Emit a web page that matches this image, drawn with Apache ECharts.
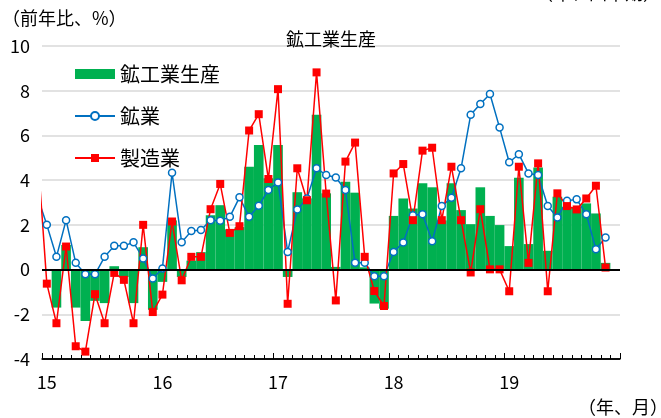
<!DOCTYPE html>
<html>
<head>
<meta charset="utf-8">
<title>鉱工業生産</title>
<script src="https://cdn.jsdelivr.net/npm/echarts@6/dist/echarts.min.js"></script>
<style>
    html, body {margin: 0; padding: 0; background: #fff;}
    #main {width: 661px; height: 418px;}
</style>
</head>
<body>
<div id="main"></div>
<script>
// months: 2014/12 .. 2019/12 (first one sits just left of the plot, last one is empty)
var months = [];
for (var y = 2014; y <= 2019; y++) {
    for (var m = 1; m <= 12; m++) {
        if (y == 2014 && m < 12) continue;
        months.push(y + '/' + m);
    }
}

// 鉱工業生産 (前年比、%)  2014/12 .. 2019/11
var totalProd = [
    3.9,
    null, -1.7, 1.1, -1.7, -2.3, -1.4, -1.5, 0.15, -0.33, -1.5, 1.0, -1.8,
    -0.55, 2.2, -0.33, 0.4, 0.78, 2.43, 2.88, 1.8, 1.9, 4.6, 5.57, 4.08,
    5.57, -0.33, 3.46, 3.18, 6.92, 3.41, 0.12, 3.93, 3.44, 0.1, -1.52, -1.75,
    2.4, 3.18, 2.73, 3.86, 3.68, 2.2, 3.86, 2.66, 2.03, 3.68, 2.4, 1.99,
    1.05, 4.11, 1.14, 4.57, 0.84, 3.26, 2.8, 2.8, 2.96, 2.51, 0.3
];

// 鉱業
var mining = [
    3.3,
    2.0, 0.57, 2.21, 0.3, -0.21, -0.21, 0.57, 1.06, 1.06, 1.22, 0.5, -0.4,
    0.05, 4.33, 1.22, 1.72, 1.77, 2.21, 2.18, 2.36, 3.23, 2.36, 2.85, 3.56,
    3.9, 0.79, 2.69, 3.18, 4.53, 4.23, 4.12, 3.56, 0.3, 0.3, -0.3, -0.3,
    0.79, 1.21, 2.43, 2.48, 1.27, 2.84, 3.21, 4.53, 6.92, 7.41, 7.85, 6.35,
    4.8, 5.16, 4.3, 4.23, 2.84, 2.33, 3.08, 3.14, 2.48, 0.91, 1.43
];

// 製造業
var manufacturing = [
    5.5,
    -0.63, -2.4, 1.03, -3.43, -3.67, -1.1, -2.4, -0.15, -0.46, -2.4, 2.0, -1.9,
    -1.12, 2.15, -0.48, 0.57, 0.57, 2.7, 3.83, 1.64, 1.94, 6.22, 6.95, 4.05,
    8.07, -1.53, 4.53, 3.1, 8.82, 3.4, -1.38, 4.83, 5.68, 0.57, -0.96, -1.63,
    4.3, 4.72, 2.21, 5.32, 5.45, 2.21, 4.6, 2.21, -0.13, 2.7, 0.01, 0.01,
    -0.97, 4.6, 0.3, 4.75, -0.97, 3.41, 2.84, 2.69, 3.18, 3.75, 0.09
];

var seriesNames = ['鉱工業生産', '鉱業', '製造業'];
var yTicks = {min: -4, max: 10, interval: 2};

var FONT = '"Noto Sans CJK JP", "Noto Sans", sans-serif';

function isJan(value) {
    return String(value).split('/')[1] == '1';
}

// bottom axis line + month ticks, placed with the chart's own scales
function drawBottomAxis(myChart) {
    try {
        var yPix = myChart.convertToPixel({yAxisIndex: 0}, yTicks.min);
        var c1 = myChart.convertToPixel({xAxisIndex: 0}, 1);
        var c2 = myChart.convertToPixel({xAxisIndex: 0}, 2);
        var band = c2 - c1;
        var x0 = c1 - band / 2;
        var n = months.length - 1;
        var els = [{
            id: 'axisBottom', type: 'line', z: 100, silent: true,
            shape: {x1: x0, y1: yPix, x2: x0 + band * n, y2: yPix},
            style: {stroke: '#000', lineWidth: 1.5}
        }];
        for (var i = 0; i <= n; i++) {
            var big = (i == n) || isJan(months[i + 1]);
            var x = Math.round(x0 + i * band) + 0.5;
            els.push({
                id: 'tick' + i, type: 'line', z: 100, silent: true,
                shape: {x1: x, y1: yPix, x2: x, y2: yPix - (big ? 6 : 4)},
                style: {stroke: '#000', lineWidth: 1}
            });
        }
        myChart.setOption({graphic: els});
    } catch (e) {
        console.log(e);
    }
}

function pageOnload() {
    var myChart = echarts.init(document.getElementById('main'));

    var option = {
        animation: false,
        textStyle: {fontFamily: FONT},
        title: {
            text: '鉱工業生産', left: 281, top: 25,
            textStyle: {fontSize: 18, fontWeight: 'normal', color: '#000', fontFamily: FONT}
        },
        graphic: [
            {id: 'unitY', type: 'text', left: 2, top: 9, style: {text: '（前年比、%）', font: '18px ' + FONT, fill: '#000'}},
            {id: 'unitTop', type: 'text', right: 0, top: -16, style: {text: '（年、四半期）', font: '18px ' + FONT, fill: '#000'}},
            {id: 'unitX', type: 'text', left: 578, top: 398, style: {text: '（年、月）', font: '18px ' + FONT, fill: '#000'}}
        ],
        legend: {
            orient: 'vertical', left: 69, top: 59,
            itemWidth: 40, itemHeight: 10, itemGap: 22,
            textStyle: {fontSize: 20, color: '#000', fontFamily: FONT},
            data: [{name: seriesNames[0], icon: 'rect'}, seriesNames[1], seriesNames[2]]
        },
        grid: {left: 42, right: 41, top: 46, bottom: 59},
        xAxis: {
            type: 'category', data: months, min: 1, max: 60,
            axisLine: {show: true, onZero: false, lineStyle: {color: '#000', width: 1.5}},
            axisTick: {show: false},
            axisLabel: {
                interval: 0, margin: 14, fontSize: 18, color: '#000', fontFamily: FONT,
                formatter: function (v) { return isJan(v) ? v.substr(2, 2) : ''; }
            },
            splitLine: {show: false}
        },
        yAxis: {
            type: 'value', min: yTicks.min, max: yTicks.max, interval: yTicks.interval,
            axisLine: {show: false}, axisTick: {show: false},
            axisLabel: {margin: 12, fontSize: 18, color: '#000', fontFamily: FONT},
            splitLine: {lineStyle: {color: '#d9d9d9', width: 1.5}}
        },
        series: [
            {
                name: seriesNames[0], type: 'bar', data: totalProd,
                barWidth: '100%', itemStyle: {color: '#00B050'},
                // zero line
                markLine: {
                    silent: true, symbol: 'none', label: {show: false},
                    lineStyle: {color: '#000', width: 2, type: 'solid'},
                    data: [{yAxis: 0}]
                }
            },
            {
                name: seriesNames[1], type: 'line', data: mining,
                symbol: 'circle', symbolSize: 7,
                lineStyle: {color: '#0070C0', width: 1.5},
                itemStyle: {color: '#fff', borderColor: '#0070C0', borderWidth: 1.5}
            },
            {
                name: seriesNames[2], type: 'line', data: manufacturing,
                symbol: 'rect', symbolSize: 8,
                lineStyle: {color: '#FF0000', width: 1.5},
                itemStyle: {color: '#FF0000'}
            }
        ]
    };

    myChart.setOption(option);
    drawBottomAxis(myChart);
}

pageOnload();
</script>
</body>
</html>
